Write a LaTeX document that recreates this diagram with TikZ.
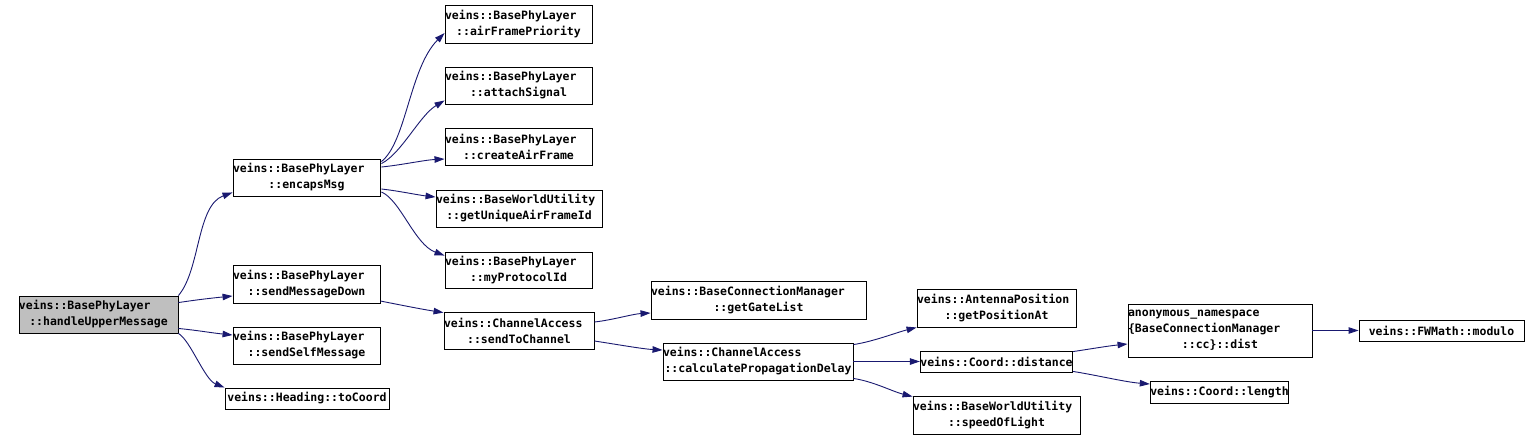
\documentclass[tikz,border=0pt]{standalone}
\usepackage{fontspec}
\setmonofont{DejaVu Sans Mono}
\usetikzlibrary{arrows.meta}
\definecolor{edgeblue}{HTML}{191970}
\definecolor{nodegray}{HTML}{BFBFBF}
\newcommand\dxtwo[3]{\makebox[#1][l]{#2}\\\makebox[#1][c]{#3}}
\newcommand\dxthree[4]{\makebox[#1][l]{#2}\\\makebox[#1][l]{#3}\\\makebox[#1][c]{#4}}
\begin{document}
\begin{tikzpicture}[x=1pt,y=-1pt,
  dbox/.style={draw=black, line width=0.9pt, inner sep=0pt, align=center, anchor=center,
    font=\ttfamily\bfseries\fontsize{11.5}{16}\selectfont},
  call/.style={draw=edgeblue, line width=0.9pt, -{Triangle[length=10pt,width=6.5pt]}}]
\useasboundingbox[fill=white] (0,0) rectangle (1540,440);
% nodes
\node[dbox, fill=nodegray, minimum width=159pt, minimum height=37pt] (hum) at (98.5,314.5) {\dxtwo{159pt}{veins::BasePhyLayer}{::handleUpperMessage}};
\node[dbox, minimum width=147pt, minimum height=37pt] (enc) at (306.5,177.5) {\dxtwo{147pt}{veins::BasePhyLayer}{::encapsMsg}};
\node[dbox, minimum width=147pt, minimum height=38pt] (smd) at (306.5,284) {\dxtwo{147pt}{veins::BasePhyLayer}{::sendMessageDown}};
\node[dbox, minimum width=147pt, minimum height=37pt] (ssm) at (306.5,345.5) {\dxtwo{147pt}{veins::BasePhyLayer}{::sendSelfMessage}};
\node[dbox, minimum width=164pt, minimum height=21pt] (toc) at (307,398.5) {veins::Heading::toCoord};
\node[dbox, minimum width=147pt, minimum height=38pt] (afp) at (518.5,24) {\dxtwo{147pt}{veins::BasePhyLayer}{::airFramePriority}};
\node[dbox, minimum width=147pt, minimum height=37pt] (ats) at (518.5,85.5) {\dxtwo{147pt}{veins::BasePhyLayer}{::attachSignal}};
\node[dbox, minimum width=147pt, minimum height=37pt] (caf) at (518.5,146.5) {\dxtwo{147pt}{veins::BasePhyLayer}{::createAirFrame}};
\node[dbox, minimum width=166pt, minimum height=37pt] (gua) at (519,208.5) {\dxtwo{166pt}{veins::BaseWorldUtility}{::getUniqueAirFrameId}};
\node[dbox, minimum width=147pt, minimum height=36pt] (mpi) at (518.5,270) {\dxtwo{147pt}{veins::BasePhyLayer}{::myProtocolId}};
\node[dbox, minimum width=150pt, minimum height=37pt] (stc) at (519,330.5) {\dxtwo{150pt}{veins::ChannelAccess}{::sendToChannel}};
\node[dbox, minimum width=215pt, minimum height=38pt] (ggl) at (758.5,300) {\dxtwo{215pt}{veins::BaseConnectionManager}{::getGateList}};
\node[dbox, minimum width=190pt, minimum height=37pt] (cpd) at (758,361.5) {\dxtwo{190pt}{veins::ChannelAccess}{::calculatePropagationDelay}};
\node[dbox, minimum width=159pt, minimum height=38pt] (gpa) at (996.5,308) {\dxtwo{159pt}{veins::AntennaPosition}{::getPositionAt}};
\node[dbox, minimum width=147pt, minimum height=21pt] (dst) at (996.5,361.5) {veins::Coord::distance};
\node[dbox, minimum width=167pt, minimum height=38pt] (sol) at (996.5,415) {\dxtwo{167pt}{veins::BaseWorldUtility}{::speedOfLight}};
\node[dbox, minimum width=184pt, minimum height=53pt] (anon) at (1220,330.5) {\dxthree{184pt}{anonymous\_namespace}{\{BaseConnectionManager}{::cc\}::dist}};
\node[dbox, minimum width=137pt, minimum height=22pt] (len) at (1219.5,392) {veins::Coord::length};
\node[dbox, minimum width=165pt, minimum height=21pt] (mod) at (1441.5,330.5) {veins::FWMath::modulo};
% edges
\draw[call] (hum.north east) .. controls +(22,-26) and +(-36,13) .. ([shift={(0,-4)}]enc.south west);
\draw[call] ([shift={(0,7)}]hum.north east) .. controls +(20,-3) and +(-20,2) .. ([shift={(0,12)}]smd.west);
\draw[call] ([shift={(0,-5)}]hum.south east) .. controls +(20,2) and +(-20,-2) .. ([shift={(0,-10.5)}]ssm.west);
\draw[call] (hum.south east) .. controls +(12,7) and +(-20,-8) .. (toc.north west);
\draw[call] ([shift={(1,3)}]enc.north east) .. controls +(25,-20) and +(-35,35) .. ([shift={(0,9)}]afp.west);
\draw[call] ([shift={(1,5)}]enc.north east) .. controls +(20,-10) and +(-25,15) .. ([shift={(0,-4)}]ats.south west);
\draw[call] ([shift={(1,-10.5)}]enc.east) .. controls +(20,-2) and +(-20,1) .. ([shift={(0,12.5)}]caf.west);
\draw[call] ([shift={(1,11.5)}]enc.east) .. controls +(18,2) and +(-18,-2) .. ([shift={(0,-11.5)}]gua.west);
\draw[call] ([shift={(1,14.5)}]enc.east) .. controls +(19,8) and +(-30,-11) .. ([shift={(0,4)}]mpi.north west);
\draw[call] ([shift={(0,17)}]smd.east) .. controls +(20,4) and +(-20,-3) .. ([shift={(0,1)}]stc.north west);
\draw[call] ([shift={(0,-8.5)}]stc.east) .. controls +(18,-2) and +(-18,1) .. ([shift={(0,13)}]ggl.west);
\draw[call] ([shift={(0,10.5)}]stc.east) .. controls +(20,3) and +(-20,-1) .. ([shift={(0,-11.5)}]cpd.west);
\draw[call] ([shift={(0,2)}]cpd.north east) .. controls +(20,-3) and +(-20,5) .. (gpa.south west);
\draw[call] (cpd.east) -- (dst.west);
\draw[call] ([shift={(0,-2)}]cpd.south east) .. controls +(20,3) and +(-20,-5) .. ([shift={(0,1)}]sol.north west);
\draw[call] ([shift={(0,1)}]dst.north east) .. controls +(20,-3) and +(-20,2) .. ([shift={(0,13.5)}]anon.west);
\draw[call] ([shift={(0,-1)}]dst.south east) .. controls +(25,4) and +(-25,-2) .. ([shift={(0,-8)}]len.west);
\draw[call] (anon.east) -- (mod.west);
\end{tikzpicture}
\end{document}
